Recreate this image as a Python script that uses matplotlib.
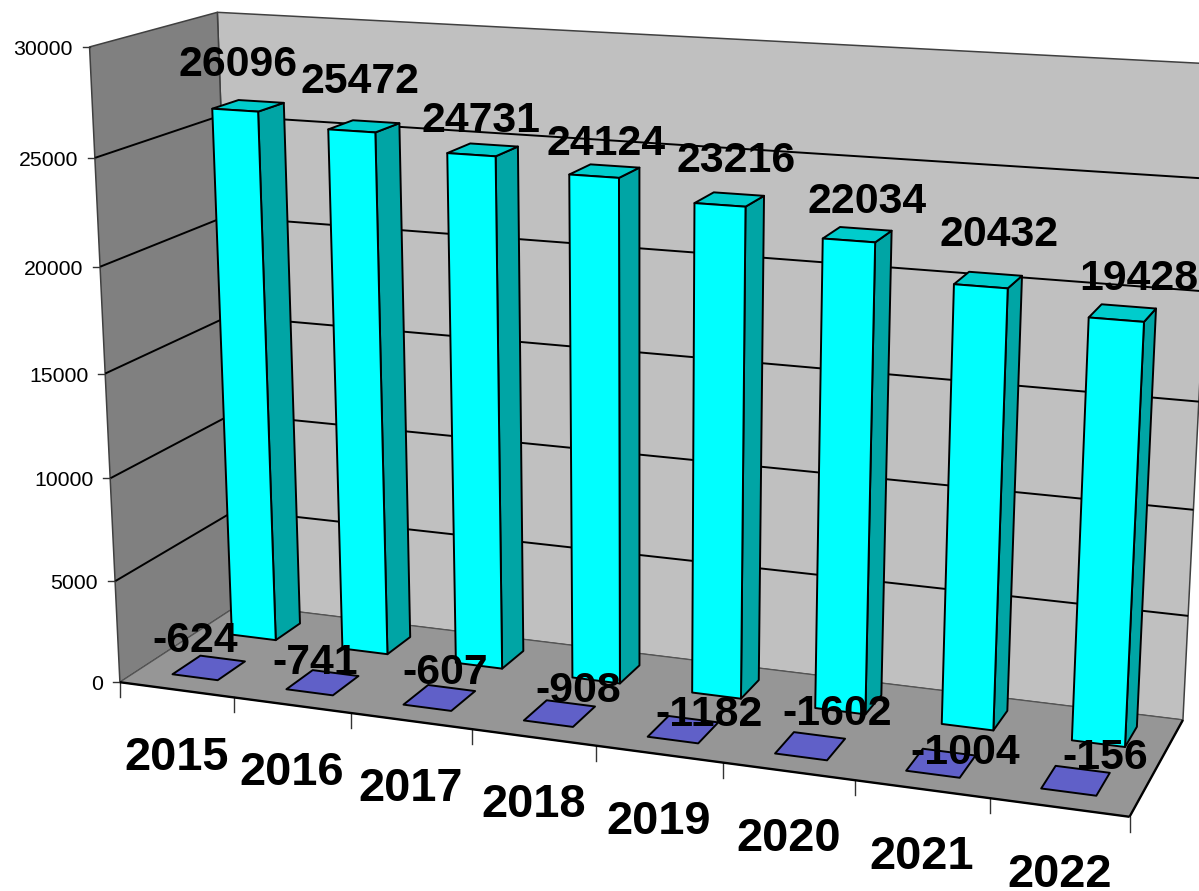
import numpy as np
import matplotlib
matplotlib.use('Agg')
import matplotlib.pyplot as plt
from matplotlib.patches import Polygon

plt.rcParams['font.family'] = ['Liberation Sans', 'DejaVu Sans']

# data
years = ['2015', '2016', '2017', '2018', '2019', '2020', '2021', '2022']
totals = [26096, 25472, 24731, 24124, 23216, 22034, 20432, 19428]
changes = [-624, -741, -607, -908, -1182, -1602, -1004, -156]
y_ticks = [0, 5000, 10000, 15000, 20000, 25000, 30000]
y_max = 30000

# label nudges in pixels, the original labels were placed a bit unevenly
total_nudge = [(-10, -46), (-4, -49), (-2, -34), (2, -32), (7, -43), (10, -38), (11, -50), (16, -39)]
change_nudge = [(-13, -32), (-7, -25), (6, -30), (19, -28), (26, -20), (27, -38), (24, -16), (30, -28)]

# 3d box corners -> picture pixels, used to fit the camera
n = len(years)
anchors = [
    ((0, 0, 0), (120, 682)), ((n, 0, 0), (1130, 816)),
    ((0, 1, 0), (89, 47)), ((0, 0, 1), (239, 604)),
    ((0, 1, 1), (217, 13)), ((n, 0, 1), (1183, 720)),
    ((n, 1, 1), (1216, 64)),
    ((1, 0, 0), (234, 698)), ((2, 0, 0), (351, 714)), ((3, 0, 0), (472, 730)),
    ((4, 0, 0), (596, 746)), ((5, 0, 0), (724, 763)), ((6, 0, 0), (854, 780)),
    ((7, 0, 0), (989, 798)),
    ((0, 5/6, 0), (95, 158)), ((0, 4/6, 0), (101, 267)), ((0, 3/6, 0), (105, 372)),
    ((0, 2/6, 0), (110, 478)), ((0, 1/6, 0), (115, 581)),
]
rows = []
for (x, y, z), (u, v) in anchors:
    u, v = u / 1000, v / 1000
    rows.append([x, y, z, 1, 0, 0, 0, 0, -u*x, -u*y, -u*z, -u])
    rows.append([0, 0, 0, 0, x, y, z, 1, -v*x, -v*y, -v*z, -v])
P = np.linalg.svd(np.array(rows))[2][-1].reshape(3, 4)


def proj(x, val, z):
    w = P @ np.array([x, val / y_max, z, 1.0])
    return w[0] / w[2] * 1000, w[1] / w[2] * 1000


def face(pts, color, lw=1.4, edge='black', zo=2):
    ax.add_patch(Polygon([proj(*p) for p in pts], closed=True, fc=color, ec=edge,
                         lw=lw, zorder=zo, joinstyle='round'))


def line(a, b, color='black', lw=1.4, zo=1.5):
    pa, pb = proj(*a), proj(*b)
    ax.plot([pa[0], pb[0]], [pa[1], pb[1]], color=color, lw=lw, zorder=zo, solid_capstyle='butt')


def column(x0, x1, z0, z1, top):
    face([(x1, 0, z0), (x1, 0, z1), (x1, top, z1), (x1, top, z0)], SIDE)
    face([(x0, top, z0), (x1, top, z0), (x1, top, z1), (x0, top, z1)], TOP)
    face([(x0, 0, z0), (x1, 0, z0), (x1, top, z0), (x0, top, z0)], FRONT)


FRONT, SIDE, TOP = '#00FFFF', '#00A5A5', '#00CCCC'
PLATE = '#6060C8'
BACK, LEFT, FLOOR = '#C0C0C0', '#808080', '#969696'

fig = plt.figure(figsize=(11.99, 8.91), dpi=100)
ax = fig.add_axes([0, 0, 1, 1])
ax.set_xlim(0, 1199)
ax.set_ylim(891, 0)
ax.axis('off')

# walls and floor
face([(0, 0, 1), (n, 0, 1), (n, y_max, 1), (0, y_max, 1)], BACK, lw=1.1, edge='#404040', zo=1)
face([(0, 0, 0), (0, 0, 1), (0, y_max, 1), (0, y_max, 0)], LEFT, lw=1.1, edge='#404040', zo=1)
face([(0, 0, 0), (n, 0, 0), (n, 0, 1), (0, 0, 1)], FLOOR, lw=0.8, edge='#555555', zo=1.2)
line((0, 0, 0), (n, 0, 0), lw=1.7, zo=1.6)
line((n, 0, 0), (n, 0, 1), lw=1.7, zo=1.6)

# gridlines and ticks
for t in y_ticks[1:-1]:
    line((0, t, 0), (0, t, 1))
    line((0, t, 1), (n, t, 1))
for t in y_ticks:
    u, v = proj(0, t, 0)
    ax.plot([u - 7, u], [v, v], color='#333333', lw=1, zorder=1.5)
    ax.text(u - 17, v + 8, str(t), ha='right', va='baseline', fontsize=15.3, color='black')
for i in range(n + 1):
    u, v = proj(i, 0, 0)
    ax.plot([u, u], [v, v + 15], color='#333333', lw=1, zorder=1.5)

# front row: negatives are cut off at the axis so only a flat plate is left
gap = 0.3
for i in range(n):
    top = max(changes[i], 0)
    face([(i + gap, top, 0.15), (i + 1 - gap, top, 0.15), (i + 1 - gap, top, 0.38), (i + gap, top, 0.38)], PLATE)
    column(i + gap, i + 1 - gap, 0.65, 0.87, totals[i])

# labels
for i in range(n):
    u, v = proj(i + 0.5, 0, 0)
    ax.text(u, v + 63 + 17, years[i], ha='center', va='baseline', fontsize=33.8,
            fontweight='bold', zorder=5)
    u, v = proj(i + 0.5, totals[i], 0.76)
    dx, dy = total_nudge[i]
    ax.text(u + dx, v + dy + 16, str(totals[i]), ha='center', va='baseline', fontsize=30.8,
            fontweight='bold', zorder=5)
    u, v = proj(i + 0.5, 0, 0.26)
    dx, dy = change_nudge[i]
    ax.text(u + dx, v + dy + 16, str(changes[i]), ha='center', va='baseline', fontsize=30.8,
            fontweight='bold', zorder=5)

fig.savefig('out.png', dpi=100)
